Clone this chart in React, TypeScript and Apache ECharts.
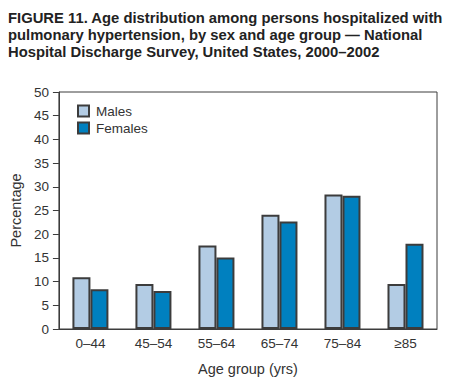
import React, { useEffect, useRef } from "react";
import * as echarts from "echarts";

const categories = ["0–44", "45–54", "55–64", "65–74", "75–84", "≥85"];
const males = [10.9, 9.5, 17.6, 24.1, 28.4, 9.5];
const females = [8.4, 8.0, 15.1, 22.7, 28.1, 18.0];

const FONT = "'Liberation Sans', Arial, Helvetica, sans-serif";
const TEXT = "#333333";
const BORDER = "#3c3c3c";

export default function App() {
  const ref = useRef<HTMLDivElement>(null);
  useEffect(() => {
    if (!ref.current) return;
    const chart = echarts.init(ref.current, undefined, { renderer: "svg" });
    chart.setOption({
      animation: false,
      backgroundColor: "#ffffff",
      title: {
        text:
          "FIGURE 11. Age distribution among persons hospitalized with\npulmonary hypertension, by sex and age group — National\nHospital Discharge Survey, United States, 2000–2002",
        left: 8,
        top: 9,
        padding: 0,
        textStyle: {
          fontFamily: FONT,
          fontSize: 14.8,
          fontWeight: "bold",
          color: "#222222",
          lineHeight: 17,
        },
      },
      legend: {
        orient: "vertical",
        left: 77,
        top: 104,
        padding: 0,
        itemWidth: 11,
        itemHeight: 11,
        itemGap: 3,
        icon: "rect",
        textStyle: { fontFamily: FONT, fontSize: 13.5, color: TEXT, padding: [0, 0, 0, 2] },
        data: ["Males", "Females"],
      },
      grid: {
        left: 55,
        right: 15,
        top: 92,
        bottom: 53,
        show: true,
        borderColor: BORDER,
        borderWidth: 1,
        backgroundColor: "transparent",
      },
      xAxis: {
        type: "category",
        data: categories,
        axisLine: { lineStyle: { color: BORDER, width: 1 } },
        axisTick: { alignWithLabel: true, length: 5, lineStyle: { color: BORDER } },
        axisLabel: { fontFamily: FONT, fontSize: 13.5, color: TEXT, margin: 7 },
        name: "Age group (yrs)",
        nameLocation: "middle",
        nameGap: 32,
        nameTextStyle: { fontFamily: FONT, fontSize: 14.5, color: TEXT },
      },
      yAxis: {
        type: "value",
        min: 0,
        max: 50,
        interval: 5,
        splitLine: { show: false },
        axisLine: { show: true, lineStyle: { color: BORDER, width: 1 } },
        axisTick: { show: true, length: 6, lineStyle: { color: BORDER } },
        axisLabel: { fontFamily: FONT, fontSize: 13.5, color: TEXT, margin: 10 },
        name: "Percentage",
        nameLocation: "middle",
        nameGap: 35,
        nameTextStyle: { fontFamily: FONT, fontSize: 14.5, color: TEXT },
      },
      series: [
        {
          name: "Males",
          type: "bar",
          data: males,
          barWidth: 18,
          barGap: "0%",
          itemStyle: { color: "#b3cce4", borderColor: BORDER, borderWidth: 2 },
        },
        {
          name: "Females",
          type: "bar",
          data: females,
          barWidth: 18,
          barGap: "0%",
          itemStyle: { color: "#0080bf", borderColor: BORDER, borderWidth: 2 },
        },
      ],
    });
    return () => chart.dispose();
  }, []);
  return (
    <div
      ref={ref}
      style={{ position: "fixed", left: 0, top: 0, width: 452, height: 382, background: "#fff" }}
    />
  );
}
